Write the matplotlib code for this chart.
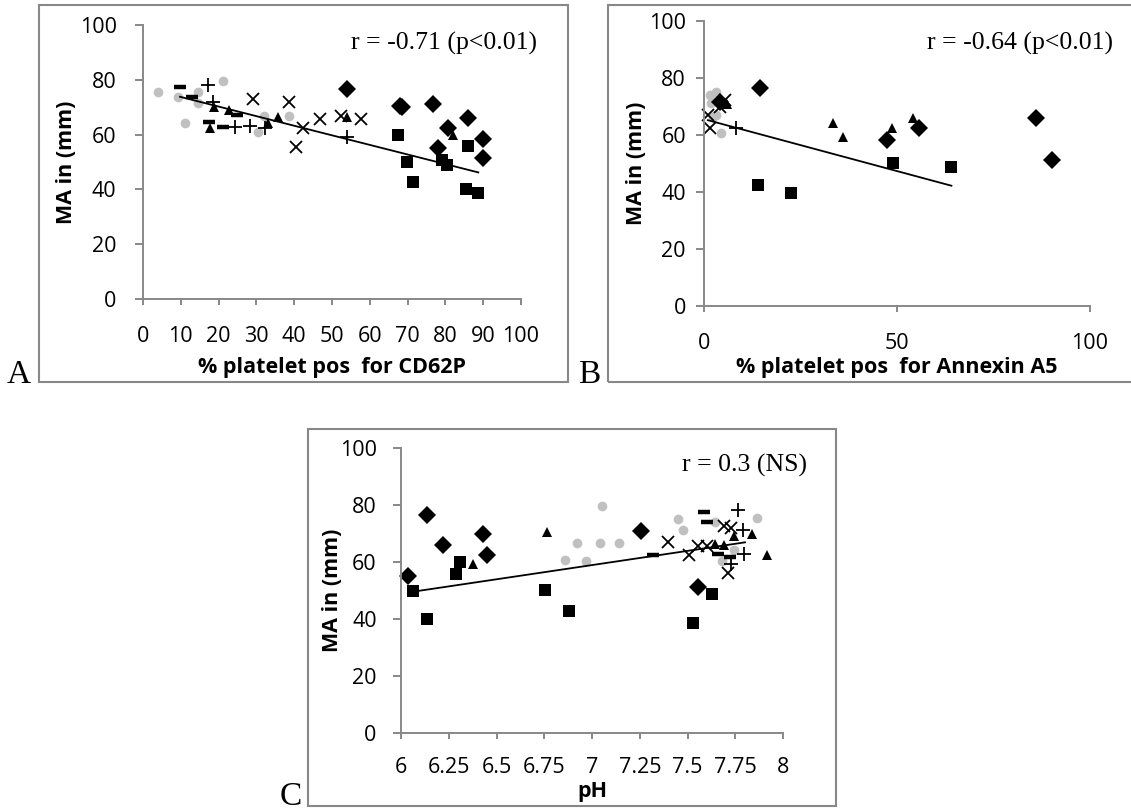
import matplotlib
matplotlib.use("Agg")
import matplotlib.pyplot as plt
from matplotlib.patches import Rectangle

# ---------------- data ----------------
# Panel A: MA vs % platelet pos for CD62P
a_circle = [(4.1, 75.6), (9.3, 73.8), (11.1, 64.4), (14.6, 75.4), (14.6, 71.4),
            (21.1, 79.6), (30.3, 61.1), (32.0, 66.8), (38.7, 66.8)]
a_dash = [(9.8, 77.5), (12.9, 73.6), (17.5, 64.7), (21.1, 62.9), (24.8, 67.2)]
a_plus = [(17.3, 78.1), (18.6, 72.0), (24.3, 62.7), (28.3, 63.1), (32.3, 62.3), (53.9, 59.0)]
a_triangle = [(17.6, 62.3), (18.9, 70.0), (22.8, 69.0), (33.2, 64.1), (35.6, 66.3),
              (54.1, 66.3), (82.1, 59.9)]
a_cross = [(29.2, 73.0), (38.7, 72.0), (42.4, 62.5), (40.6, 55.6), (46.8, 65.7),
           (52.3, 66.9), (57.6, 65.7)]
a_diamond = [(53.9, 76.6), (68.0, 70.6), (68.4, 70.0), (76.8, 71.0), (78.1, 55.0),
             (80.8, 62.5), (85.9, 65.9), (90.0, 58.4), (90.0, 51.3)]
a_square = [(67.4, 59.9), (69.8, 49.9), (71.5, 42.8), (79.0, 50.7), (80.3, 48.9),
            (85.9, 56.0), (85.4, 40.0), (88.5, 38.6)]
a_trend_x = [9.8, 88.7]
a_trend_y = [73.8, 46.2]

# Panel B: MA vs % platelet pos for Annexin A5
b_circle = [(1.6, 73.9), (3.0, 75.1), (1.9, 71.3), (3.0, 66.9), (4.5, 60.7), (2.3, 66.4)]
b_cross = [(1.5, 62.3), (1.0, 66.9), (5.4, 72.2), (4.1, 69.9)]
b_plus = [(8.4, 62.6)]
b_diamond = [(14.6, 76.5), (47.5, 58.2), (55.7, 62.3), (86.0, 66.0), (90.1, 51.4), (4.1, 71.6)]
b_triangle = [(33.3, 64.3), (36.0, 59.3), (48.6, 62.3), (54.2, 66.0), (6.0, 71.0)]
b_square = [(14.0, 42.6), (22.6, 39.7), (49.0, 50.2), (64.0, 48.6)]
b_dash = []
b_trend_x = [1.0, 64.1]
b_trend_y = [65.2, 42.2]

# Panel C: MA vs pH
c_diamond = [(6.035, 55.2), (6.138, 76.6), (6.218, 66.0), (6.431, 69.9), (6.452, 62.3),
             (7.255, 71.0), (7.553, 51.4)]
c_square = [(6.065, 49.9), (6.138, 39.9), (6.288, 55.9), (6.309, 60.0), (6.754, 50.2),
            (6.880, 42.9), (7.527, 38.5), (7.630, 48.8)]
c_triangle = [(6.379, 59.4), (6.766, 70.7), (7.644, 66.4), (7.691, 65.9), (7.745, 69.0),
              (7.836, 69.9), (7.914, 62.5)]
c_circle = [(6.859, 60.8), (6.920, 66.6), (6.969, 60.5), (7.051, 79.5), (7.042, 66.6),
            (7.143, 66.6), (7.448, 75.1), (7.478, 71.3), (7.644, 74.0), (7.682, 60.4),
            (7.745, 64.3), (7.866, 75.4)]
c_cross = [(7.396, 66.9), (7.510, 62.5), (7.553, 65.5), (7.600, 65.7), (7.691, 72.7),
           (7.726, 71.9), (7.714, 56.1)]
c_plus = [(7.766, 78.3), (7.792, 71.3), (7.796, 62.9), (7.726, 59.4)]
c_dash = [(7.588, 77.5), (7.600, 74.0), (7.661, 62.9), (7.723, 61.9), (7.321, 62.3)]
c_trend_x = [6.065, 7.801]
c_trend_y = [49.6, 66.9]

a_xticks = [0, 10, 20, 30, 40, 50, 60, 70, 80, 90, 100]
b_xticks = [0, 50, 100]
c_xticks = [6, 6.25, 6.5, 6.75, 7, 7.25, 7.5, 7.75, 8]
c_xticklabels = ["6", "6.25", "6.5", "6.75", "7", "7.25", "7.5", "7.75", "8"]
y_ticks = [0, 20, 40, 60, 80, 100]

a_xlabel = "% platelet pos  for CD62P"
b_xlabel = "% platelet pos  for Annexin A5"
c_xlabel = "pH"
y_label = "MA in (mm)"
a_note = "r = -0.71 (p<0.01)"
b_note = "r = -0.64 (p<0.01)"
c_note = "r = 0.3 (NS)"

# ---------------- styling ----------------
W, H = 1131, 810
fig = plt.figure(figsize=(W / 100, H / 100), dpi=100)
SANS = ["Open Sans", "DejaVu Sans"]
SERIF = ["Liberation Serif", "DejaVu Serif"]
GRAY = "#888888"
FS = 15.5

STY = {
    "circle": dict(marker="o", ms=7, mfc="#c0c0c0", mec="#c0c0c0", mew=0),
    "dash": dict(marker="_", ms=8, mfc="black", mec="black", mew=3.2),
    "plus": dict(marker="+", ms=10, mfc="black", mec="black", mew=1.3),
    "triangle": dict(marker="^", ms=7, mfc="black", mec="black", mew=0),
    "cross": dict(marker="x", ms=9, mfc="black", mec="black", mew=1.3),
    "diamond": dict(marker="D", ms=8.8, mfc="black", mec="black", mew=0),
    "square": dict(marker="s", ms=8.8, mfc="black", mec="black", mew=0),
}


def px_axes(l, t, r, b):
    return fig.add_axes([l / W, 1 - b / H, (r - l) / W, (b - t) / H])


def box(l, t, r, b):
    fig.patches.append(Rectangle((l / W, 1 - b / H), (r - l) / W, (b - t) / H,
                                 transform=fig.transFigure, fill=False,
                                 edgecolor=GRAY, linewidth=1.5))


def style_axes(ax, xlim, xticks, ypad, xticklabels=None):
    ax.set_xlim(*xlim)
    ax.set_ylim(0, 100)
    for s in ("top", "right"):
        ax.spines[s].set_visible(False)
    for s in ("left", "bottom"):
        ax.spines[s].set_color(GRAY)
        ax.spines[s].set_linewidth(1.4)
    ax.set_xticks(xticks)
    if xticklabels is not None:
        ax.set_xticklabels(xticklabels)
    ax.set_yticks(y_ticks)
    ax.tick_params(axis="x", direction="out", length=4.5, width=1.4, color=GRAY,
                   pad=15, labelsize=FS)
    ax.tick_params(axis="y", direction="out", length=6, width=1.4, color=GRAY,
                   pad=ypad, labelsize=FS)
    for lab in ax.get_xticklabels() + ax.get_yticklabels():
        lab.set_family(SANS)
    ax.patch.set_alpha(0)


def plot_series(ax, series):
    for name, pts in series:
        if not pts:
            continue
        xs = [p[0] for p in pts]
        ys = [p[1] for p in pts]
        ax.plot(xs, ys, linestyle="none", clip_on=False, **STY[name])


def labels(ax, xlabel, xl_y, yl_x):
    ax.set_xlabel(xlabel, family=SANS, fontsize=FS, fontweight="bold", va="center")
    ax.xaxis.set_label_coords(0.5, xl_y)
    ax.set_ylabel(y_label, family=SANS, fontsize=FS, fontweight="bold", va="center")
    ax.yaxis.set_label_coords(yl_x, 0.5)


# Boxes and panel letters
box(39, 5, 568, 382)
box(608, 5, 1136, 382)
box(308, 429, 836, 806)
fig.text(7 / W, 1 - 383 / H, "A", family=SERIF, fontsize=24, va="baseline")
fig.text(578 / W, 1 - 383 / H, "B", family=SERIF, fontsize=24, va="baseline")
fig.text(280 / W, 1 - 805 / H, "C", family=SERIF, fontsize=24, va="baseline")

# Panel A
axA = px_axes(143, 25, 521, 299)
style_axes(axA, (0, 100), a_xticks, 13)
plot_series(axA, [("circle", a_circle), ("diamond", a_diamond), ("square", a_square),
                  ("triangle", a_triangle), ("cross", a_cross), ("plus", a_plus),
                  ("dash", a_dash)])
axA.plot(a_trend_x, a_trend_y, color="black", lw=1.3)
labels(axA, a_xlabel, (299 - 367) / 274, (66 - 143) / 378)
fig.text(537 / W, 1 - 43 / H, a_note, family=SERIF, fontsize=18.5, ha="right", va="center")

# Panel B
axB = px_axes(704, 21, 1090, 306)
style_axes(axB, (0, 100), b_xticks, 7)
plot_series(axB, [("circle", b_circle), ("diamond", b_diamond), ("square", b_square),
                  ("triangle", b_triangle), ("cross", b_cross), ("plus", b_plus),
                  ("dash", b_dash)])
axB.plot(b_trend_x, b_trend_y, color="black", lw=1.3)
labels(axB, b_xlabel, (306 - 367) / 285, (636 - 704) / 386)
fig.text(1113 / W, 1 - 43 / H, b_note, family=SERIF, fontsize=18.5, ha="right", va="center")

# Panel C
axC = px_axes(401, 448, 783, 733)
style_axes(axC, (6, 8), c_xticks, 11.5, c_xticklabels)
axC.tick_params(axis="x", pad=13)
plot_series(axC, [("circle", c_circle), ("diamond", c_diamond), ("square", c_square),
                  ("triangle", c_triangle), ("cross", c_cross), ("plus", c_plus),
                  ("dash", c_dash)])
axC.plot(c_trend_x, c_trend_y, color="black", lw=1.3)
labels(axC, c_xlabel, (733 - 791) / 285, (332 - 401) / 382)
fig.text(807 / W, 1 - 465 / H, c_note, family=SERIF, fontsize=18.5, ha="right", va="center")

fig.savefig("out.png", dpi=100)
